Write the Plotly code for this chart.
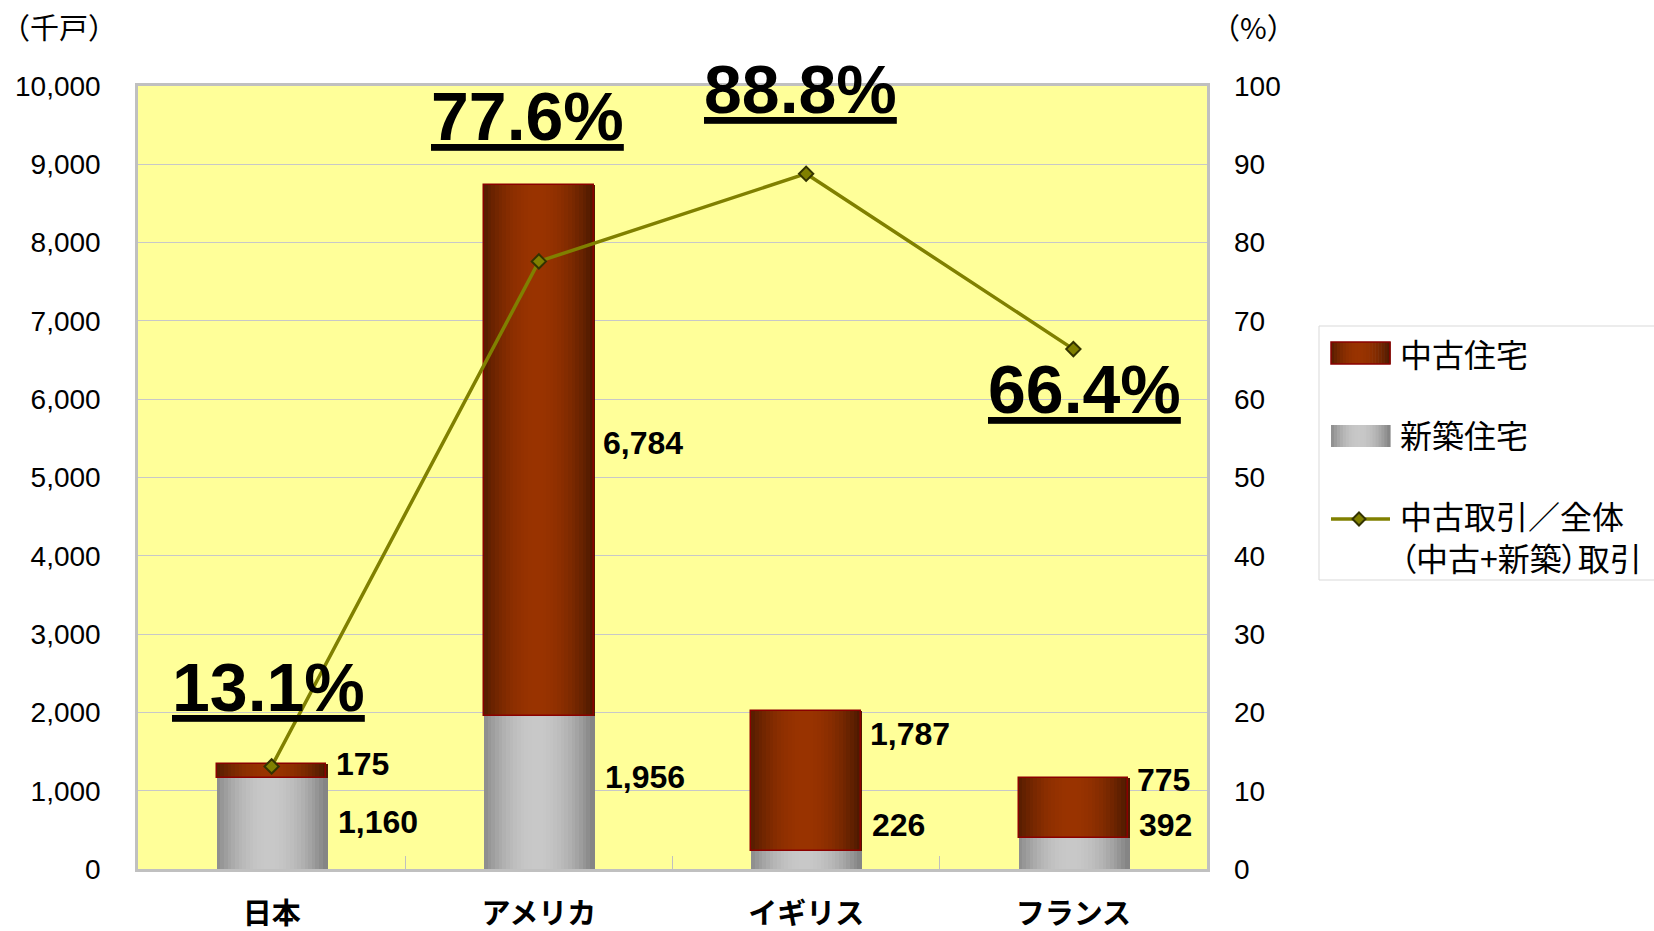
import plotly.graph_objects as go

# 住宅取引戸数（千戸）と中古住宅取引の比率（%）
countries = ["日本", "アメリカ", "イギリス", "フランス"]
new_homes = [1160, 1956, 226, 392]        # 新築住宅
used_homes = [175, 6784, 1787, 775]       # 中古住宅
used_share = [13.1, 77.6, 88.8, 66.4]     # 中古取引／全体（中古+新築）取引

# label placement (value-axis units) for the bar value labels
label_y_used = [1341, 5441, 1724, 1137]
label_y_new = [600, 1175, 562, 562]
# horizontal nudges (px) for the large share labels
share_xshift = [-3, -11, -6, 11]
share_y = [23.2, 96.2, 99.6, 61.3]

W, H = 1654, 931
L, R, T, B = 138, 1207, 86, 869
BAR_W = 0.41
N_STRIPS = 30

TXT = "Liberation Sans, Arial, sans-serif"
JP = "Noto Sans CJK JP, sans-serif"


def mix(c1, c2, t):
    return "rgb(%d,%d,%d)" % tuple(round(a + (b - a) * t) for a, b in zip(c1, c2))


def shade(edge, center, t):
    # bright in the middle, dark at both edges (cylinder-like shading)
    d = abs(t - 0.48) / 0.52
    f = max(0.0, 1 - d ** 2)
    return mix(edge, center, f)


USED_EDGE, USED_MID = (74, 24, 0), (153, 51, 0)
NEW_EDGE, NEW_MID = (128, 128, 128), (200, 200, 200)

fig = go.Figure()
step = BAR_W / N_STRIPS

for i in range(N_STRIPS):
    t = (i + 0.5) / N_STRIPS
    fig.add_trace(go.Bar(
        x=countries, y=new_homes, width=step * 1.4, offset=-BAR_W / 2 + i * step,
        marker=dict(color=shade(NEW_EDGE, NEW_MID, t), line=dict(width=0)),
        showlegend=False, hoverinfo="skip", name="新築住宅"))
for i in range(N_STRIPS):
    t = (i + 0.5) / N_STRIPS
    fig.add_trace(go.Bar(
        x=countries, y=used_homes, base=new_homes, width=step * 1.4,
        offset=-BAR_W / 2 + i * step,
        marker=dict(color=shade(USED_EDGE, USED_MID, t), line=dict(width=0)),
        showlegend=False, hoverinfo="skip", name="中古住宅"))

# outline of the used-home segment
fig.add_trace(go.Bar(
    x=countries, y=used_homes, base=new_homes, width=BAR_W, offset=-BAR_W / 2,
    marker=dict(color="rgba(0,0,0,0)", line=dict(color="#8B0000", width=1.5)),
    showlegend=False, name="中古住宅"))

fig.add_trace(go.Scatter(
    x=countries, y=used_share, yaxis="y2", mode="lines+markers",
    line=dict(color="#808000", width=3.5),
    marker=dict(symbol="diamond", size=11, color="#808000",
                line=dict(color="#333300", width=2)),
    showlegend=False, name="中古取引／全体（中古+新築）取引"))

ann = []
# bar value labels
for c, v, y in zip(countries, used_homes, label_y_used):
    ann.append(dict(x=c, y=y, xref="x", yref="y", text=f"{v:,}", showarrow=False,
                    xanchor="left", yanchor="middle", xshift=62,
                    font=dict(family=TXT, size=32, color="black", weight="bold")))
for c, v, y in zip(countries, new_homes, label_y_new):
    ann.append(dict(x=c, y=y, xref="x", yref="y", text=f"{v:,}", showarrow=False,
                    xanchor="left", yanchor="middle", xshift=64,
                    font=dict(family=TXT, size=32, color="black", weight="bold")))
# large share labels
for c, v, y, dx in zip(countries, used_share, share_y, share_xshift):
    ann.append(dict(x=c, y=y, xref="x", yref="y2", text=f"<u>{v:.1f}%</u>",
                    showarrow=False, xanchor="center", yanchor="middle", xshift=dx,
                    font=dict(family=TXT, size=68, color="black", weight="bold")))


def px_x(p):
    return (p - L) / (R - L)


def px_y(p):
    return (B - p) / (B - T)


# axis unit labels
ann.append(dict(x=px_x(59), y=px_y(26), xref="paper", yref="paper", text="（千戸）",
                showarrow=False, xanchor="center", yanchor="middle",
                font=dict(family=JP, size=29, color="black")))
ann.append(dict(x=px_x(1253), y=px_y(26), xref="paper", yref="paper", text="（%）",
                showarrow=False, xanchor="center", yanchor="middle",
                font=dict(family=JP, size=29, color="black")))

# legend
shapes = [dict(type="rect", xref="paper", yref="paper",
               x0=px_x(1319), x1=px_x(1670), y0=px_y(326), y1=px_y(580),
               line=dict(color="#d9d9d9", width=1), fillcolor="white", layer="below")]


def swatch(y0, y1, edge, mid, border):
    sx0, sx1 = 1331, 1390
    n = 20
    w = (sx1 - sx0) / n
    for k in range(n):
        t = (k + 0.5) / n
        shapes.append(dict(type="rect", xref="paper", yref="paper",
                           x0=px_x(sx0 + k * w), x1=px_x(sx0 + (k + 1) * w + 0.6),
                           y0=px_y(y1), y1=px_y(y0),
                           line=dict(width=0), fillcolor=shade(edge, mid, t)))
    if border:
        shapes.append(dict(type="rect", xref="paper", yref="paper",
                           x0=px_x(sx0), x1=px_x(sx1), y0=px_y(y1), y1=px_y(y0),
                           line=dict(color=border, width=1.5)))


swatch(342, 364, USED_EDGE, USED_MID, "#8B0000")
swatch(425, 447, NEW_EDGE, NEW_MID, None)
shapes.append(dict(type="line", xref="paper", yref="paper",
                   x0=px_x(1331), x1=px_x(1390), y0=px_y(519), y1=px_y(519),
                   line=dict(color="#808000", width=3.5)))
cx, cy, r = 1359, 519, 6.5
shapes.append(dict(type="path", xref="paper", yref="paper",
                   path="M %f,%f L %f,%f L %f,%f L %f,%f Z" % (
                       px_x(cx), px_y(cy - r), px_x(cx + r), px_y(cy),
                       px_x(cx), px_y(cy + r), px_x(cx - r), px_y(cy)),
                   fillcolor="#808000", line=dict(color="#333300", width=2)))

PALT = "font-feature-settings:'palt'"
legend_items = [("中古住宅", 353), ("新築住宅", 434),
                ("中古取引／全体<br>（中古+新築）取引", 536)]
for text, y in legend_items:
    ann.append(dict(x=px_x(1398), y=px_y(y), xref="paper", yref="paper",
                    text=f"<span style=\"{PALT}\">{text}</span>",
                    showarrow=False, xanchor="left", yanchor="middle", align="left",
                    font=dict(family=JP, size=32, color="black")))

fig.update_layout(
    width=W, height=H,
    margin=dict(l=L, r=W - R, t=T, b=H - B, autoexpand=False),
    paper_bgcolor="white", plot_bgcolor="#FFFF99",
    barmode="overlay", bargap=0,
    showlegend=False,
    annotations=ann, shapes=shapes,
    xaxis=dict(type="category", range=[-0.5, 3.5], tickson="boundaries",
               ticks="inside", ticklen=13, tickcolor="#c0c0c0", tickwidth=1,
               showline=True, linecolor="#c0c0c0", linewidth=2.5, mirror=True,
               showgrid=False, ticklabelstandoff=17, automargin=False,
               tickfont=dict(family=JP, size=29, color="black", weight="bold")),
    yaxis=dict(range=[0, 10000], dtick=1000, tickformat=",", showgrid=True,
               gridcolor="#c8c8c8", gridwidth=1, zeroline=False,
               showline=True, linecolor="#c0c0c0", linewidth=2.5, mirror=True,
               ticks="", ticklabelstandoff=29, automargin=False,
               tickfont=dict(family=TXT, size=28, color="black")),
    yaxis2=dict(range=[0, 100], dtick=10, overlaying="y", side="right",
                showgrid=False, zeroline=False, ticks="", ticklabelstandoff=26,
                automargin=False,
                tickfont=dict(family=TXT, size=28, color="black")),
)

fig.write_html("out.html")
